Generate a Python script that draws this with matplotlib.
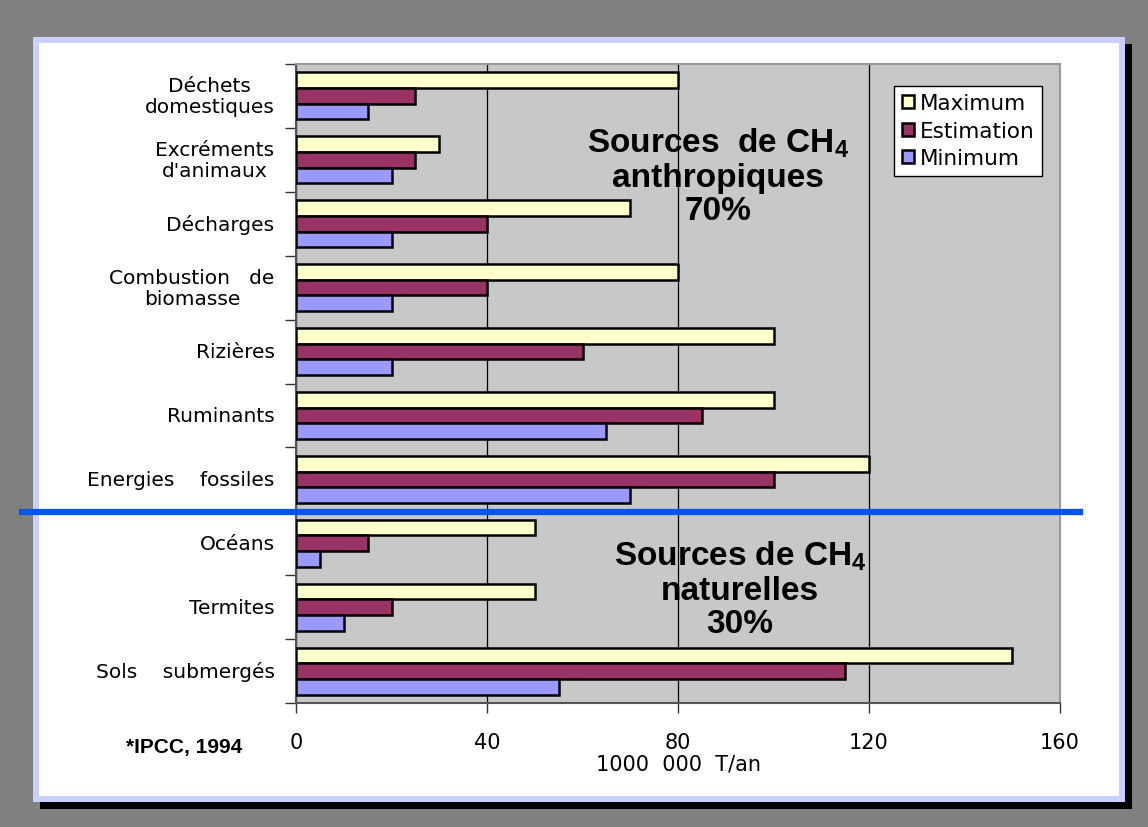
import matplotlib
matplotlib.use("Agg")
import matplotlib.pyplot as plt
from matplotlib.patches import Rectangle
import numpy as np

categories = ["Déchets\ndomestiques", "Excréments\nd'animaux", "Décharges",
              "Combustion   de\nbiomasse", "Rizières", "Ruminants",
              "Energies    fossiles", "Océans", "Termites", "Sols    submergés"]
maximum = [80, 30, 70, 80, 100, 100, 120, 50, 50, 150]
estimation = [25, 25, 40, 40, 60, 85, 100, 15, 20, 115]
minimum = [15, 20, 20, 20, 20, 65, 70, 5, 10, 55]
series_names = ["Maximum", "Estimation", "Minimum"]
colors = ["#ffffcc", "#993366", "#9999ff"]
xticks = [0, 40, 80, 120, 160]

plt.rcParams["mathtext.fontset"] = "custom"
plt.rcParams["mathtext.bf"] = "Liberation Sans:bold"
plt.rcParams["mathtext.rm"] = "Liberation Sans:bold"

W, H = 1148, 828
fig = plt.figure(figsize=(W / 100, H / 100), dpi=100, facecolor="#808080")

def fx(px):
    return px / W

def fy(py):
    return 1 - py / H

# white panel with shadow
fig.patches.append(Rectangle((fx(40), fy(810)), fx(1132 - 40), (810 - 45) / H,
                             transform=fig.transFigure, facecolor="black", edgecolor="none", zorder=0))
fig.patches.append(Rectangle((fx(33), fy(803)), fx(1125 - 33), (803 - 38) / H,
                             transform=fig.transFigure, facecolor="#c8d0ff", edgecolor="none", zorder=0))
fig.patches.append(Rectangle((fx(39), fy(797)), fx(1119 - 39), (797 - 44) / H,
                             transform=fig.transFigure, facecolor="white", edgecolor="none", zorder=0))

ax = fig.add_axes([fx(296), fy(704), fx(1060 - 296), (704 - 65) / H])
ax.set_zorder(2)
ax.set_facecolor("#c8c8c8")

y = np.arange(len(categories))
h = 0.245
for vals, off, col, name in zip([maximum, estimation, minimum], [-h, 0, h], colors, series_names):
    ax.barh(y + off, vals, height=h, color=col, edgecolor="black", linewidth=1.8,
            label=name, zorder=3)

ax.set_xlim(0, 160)
ax.set_ylim(len(categories) - 0.5, -0.5)
ax.set_xticks(xticks)
ax.set_xticklabels([str(t) for t in xticks], fontsize=15, family="DejaVu Sans")
ax.tick_params(axis="x", length=7, width=1, color="#333333", pad=14)
ax.set_yticks(np.arange(len(categories) + 1) - 0.5, minor=False)
ax.set_yticklabels([])
ax.tick_params(axis="y", length=8, width=1, color="#333333")
for i, c in enumerate(categories):
    ax.text(-4.5, i, c, ha="right", va="center", multialignment="center",
            fontsize=14.5, family="DejaVu Sans", linespacing=1.15)
ax.xaxis.grid(True, color="black", linewidth=0.9, zorder=1)
ax.set_axisbelow(True)
for s in ["left", "bottom"]:
    ax.spines[s].set_color("#555555")
    ax.spines[s].set_linewidth(1.5)
for s in ["top", "right"]:
    ax.spines[s].set_color("#999999")
    ax.spines[s].set_linewidth(1.5)

ax.set_xlabel("1000  000  T/an", fontsize=15, family="DejaVu Sans", labelpad=1)

leg = ax.legend(loc="upper right", bbox_to_anchor=(0.991, 0.983),
                frameon=True, fancybox=False, edgecolor="black", framealpha=1,
                handlelength=0.55, handleheight=0.55, handletextpad=0.3,
                labelspacing=0.35, borderpad=0.35, prop={"family": "DejaVu Sans", "size": 15.5})
leg.get_frame().set_linewidth(1)

# annotations
fig.text(fx(718), fy(177), "Sources  de CH$_4$\nanthropiques\n70%", ha="center", va="center",
         fontsize=24, weight="bold", family="Liberation Sans", linespacing=1.1, zorder=5)
fig.text(fx(740), fy(590), "Sources de CH$_4$\nnaturelles\n30%", ha="center", va="center",
         fontsize=24, weight="bold", family="Liberation Sans", linespacing=1.1, zorder=5)
fig.text(fx(184), fy(748), "*IPCC, 1994", ha="center", va="center",
         fontsize=15, weight="bold", family="Liberation Sans", zorder=5)

# separator line
fig.add_artist(plt.Line2D([fx(22), fx(1080)], [fy(513), fy(513)], transform=fig.transFigure,
                          color="#0055ee", linewidth=4.5, zorder=10))

fig.savefig("out.png", dpi=100, facecolor=fig.get_facecolor())
